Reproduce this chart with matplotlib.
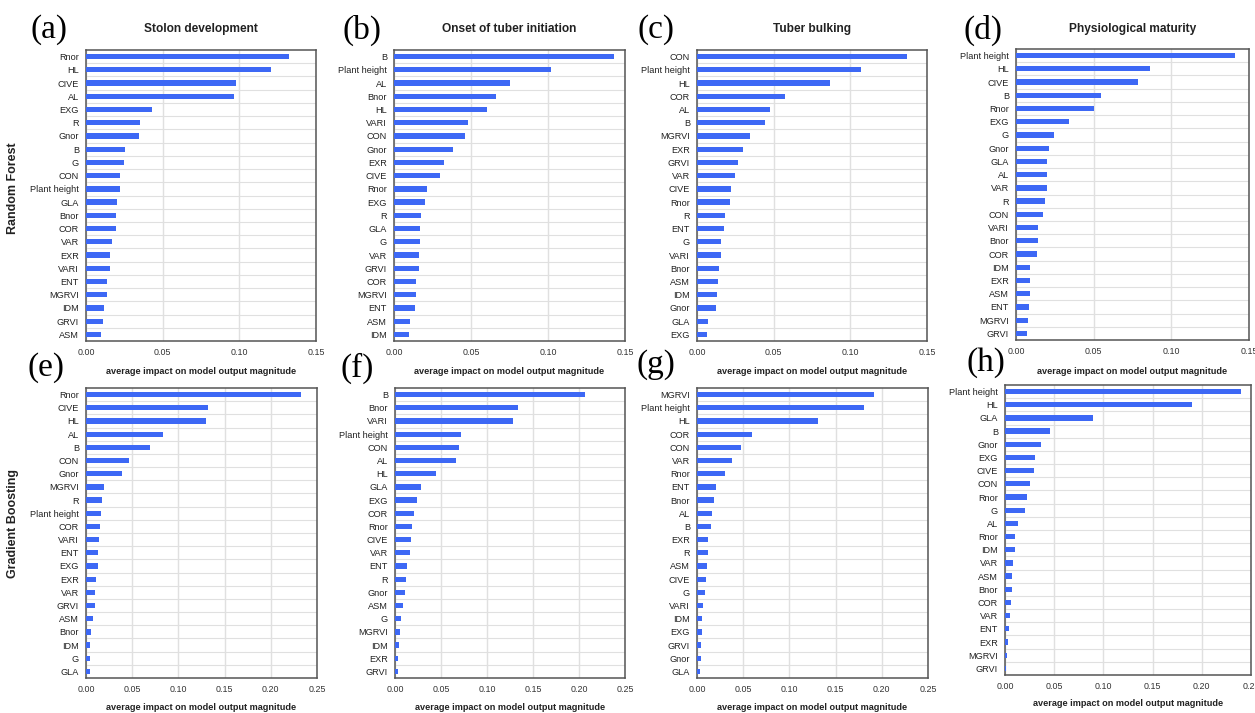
import matplotlib
matplotlib.use("Agg")
import matplotlib.pyplot as plt
from matplotlib.ticker import MultipleLocator, FixedLocator

plt.rcParams["font.family"] = ["Liberation Sans", "DejaVu Sans"]

# ---- Random Forest: mean |SHAP| per feature, one list per growth stage ----
rf_stolon_labels = ["Rnor", "HL", "CIVE", "AL", "EXG", "R", "Gnor", "B", "G", "CON",
                    "Plant height", "GLA", "Bnor", "COR", "VAR", "EXR", "VARI", "ENT",
                    "MGRVI", "IDM", "GRVI", "ASM"]
rf_stolon_values = [0.1326, 0.1207, 0.0978, 0.0963, 0.0428, 0.0354, 0.0346, 0.0257, 0.0248,
                    0.0224, 0.0222, 0.0200, 0.0198, 0.0193, 0.0172, 0.0159, 0.0158, 0.0139,
                    0.0135, 0.0120, 0.0111, 0.0098]

rf_onset_labels = ["B", "Plant height", "AL", "Bnor", "HL", "VARI", "CON", "Gnor", "EXR",
                   "CIVE", "Rnor", "EXG", "R", "GLA", "G", "VAR", "GRVI", "COR", "MGRVI",
                   "ENT", "ASM", "IDM"]
rf_onset_values = [0.1431, 0.1017, 0.0752, 0.0663, 0.0607, 0.0479, 0.0460, 0.0382, 0.0325,
                   0.0299, 0.0217, 0.0199, 0.0173, 0.0167, 0.0166, 0.0163, 0.0162, 0.0145,
                   0.0141, 0.0139, 0.0106, 0.0095]

rf_bulking_labels = ["CON", "Plant height", "HL", "COR", "AL", "B", "MGRVI", "EXR", "GRVI",
                     "VAR", "CIVE", "Rnor", "R", "ENT", "G", "VARI", "Bnor", "ASM", "IDM",
                     "Gnor", "GLA", "EXG"]
rf_bulking_values = [0.1370, 0.1070, 0.0868, 0.0577, 0.0475, 0.0443, 0.0347, 0.0300, 0.0265,
                     0.0250, 0.0219, 0.0218, 0.0185, 0.0176, 0.0156, 0.0154, 0.0145, 0.0135,
                     0.0128, 0.0126, 0.0074, 0.0067]

rf_maturity_labels = ["Plant height", "HL", "CIVE", "B", "Rnor", "EXG", "G", "Gnor", "GLA",
                      "AL", "VAR", "R", "CON", "VARI", "Bnor", "COR", "IDM", "EXR", "ASM",
                      "ENT", "MGRVI", "GRVI"]
rf_maturity_values = [0.1408, 0.0861, 0.0786, 0.0549, 0.0501, 0.0339, 0.0242, 0.0212, 0.0201,
                      0.0199, 0.0198, 0.0189, 0.0174, 0.0144, 0.0143, 0.0133, 0.0092, 0.0091,
                      0.0090, 0.0081, 0.0077, 0.0069]

# ---- Gradient Boosting ----
gb_stolon_labels = ["Rnor", "CIVE", "HL", "AL", "B", "CON", "Gnor", "MGRVI", "R",
                    "Plant height", "COR", "VARI", "ENT", "EXG", "EXR", "VAR", "GRVI", "ASM",
                    "Bnor", "IDM", "G", "GLA"]
gb_stolon_values = [0.2327, 0.1324, 0.1302, 0.0831, 0.0698, 0.0464, 0.0385, 0.0194, 0.0176,
                    0.0158, 0.0151, 0.0140, 0.0133, 0.0132, 0.0112, 0.0101, 0.0100, 0.0076,
                    0.0054, 0.0047, 0.0043, 0.0042]

gb_onset_labels = ["B", "Bnor", "VARI", "Plant height", "CON", "AL", "HL", "GLA", "EXG",
                   "COR", "Rnor", "CIVE", "VAR", "ENT", "R", "Gnor", "ASM", "G", "MGRVI",
                   "IDM", "EXR", "GRVI"]
gb_onset_values = [0.2061, 0.1334, 0.1287, 0.0712, 0.0691, 0.0662, 0.0445, 0.0286, 0.0242,
                   0.0202, 0.0188, 0.0170, 0.0159, 0.0134, 0.0119, 0.0112, 0.0090, 0.0065,
                   0.0058, 0.0043, 0.0036, 0.0033]

gb_bulking_labels = ["MGRVI", "Plant height", "HL", "COR", "CON", "VAR", "Rnor", "ENT", "Bnor",
                     "AL", "B", "EXR", "R", "ASM", "CIVE", "G", "VARI", "IDM", "EXG", "GRVI",
                     "Gnor", "GLA"]
gb_bulking_values = [0.1914, 0.1810, 0.1311, 0.0600, 0.0474, 0.0381, 0.0305, 0.0208, 0.0187,
                     0.0162, 0.0151, 0.0122, 0.0118, 0.0111, 0.0101, 0.0090, 0.0061, 0.0057,
                     0.0050, 0.0043, 0.0039, 0.0032]

gb_maturity_labels = ["Plant height", "HL", "GLA", "B", "Gnor", "EXG", "CIVE", "CON", "Rnor",
                      "G", "AL", "Rnor", "IDM", "VAR", "ASM", "Bnor", "COR", "VAR", "ENT",
                      "EXR", "MGRVI", "GRVI"]
gb_maturity_values = [0.2396, 0.1898, 0.0893, 0.0453, 0.0365, 0.0301, 0.0294, 0.0254, 0.0220,
                      0.0203, 0.0129, 0.0105, 0.0098, 0.0081, 0.0071, 0.0070, 0.0061, 0.0051,
                      0.0044, 0.0027, 0.0020, 0.0014]

stage_titles = ["Stolon development", "Onset of tuber initiation", "Tuber bulking",
                "Physiological maturity"]
model_names = ["Random Forest", "Gradient Boosting"]
panel_tags = ["(a)", "(b)", "(c)", "(d)", "(e)", "(f)", "(g)", "(h)"]
x_label = "average impact on model output magnitude"

W, H = 1255, 713
fig = plt.figure(figsize=(W / 100, H / 100), dpi=100)
fig.patch.set_facecolor("white")

BAR = "#3d68f5"
FRAME = "#555555"
GRID = "#e0e0e0"

# axes boxes in pixels: left, right, top, bottom
boxes = [
    (86, 316, 50, 341), (394, 625, 50, 341), (697, 927, 50, 341), (1016, 1249, 49, 340),
    (86, 317, 388, 678), (395, 625, 388, 678), (697, 928, 388, 678), (1005, 1251, 385, 675),
]
tag_pos = [(49, 30), (362, 30), (656, 30), (983, 30),
           (46, 368), (357, 368), (656, 365), (986, 363)]

panels = [
    (rf_stolon_labels, rf_stolon_values, 0.15),
    (rf_onset_labels, rf_onset_values, 0.15),
    (rf_bulking_labels, rf_bulking_values, 0.15),
    (rf_maturity_labels, rf_maturity_values, 0.15),
    (gb_stolon_labels, gb_stolon_values, 0.25),
    (gb_onset_labels, gb_onset_values, 0.25),
    (gb_bulking_labels, gb_bulking_values, 0.25),
    (gb_maturity_labels, gb_maturity_values, 0.25),
]

for i, ((labels, values, xmax), (l, r, t, b)) in enumerate(zip(panels, boxes)):
    ax = fig.add_axes([l / W, 1 - b / H, (r - l) / W, (b - t) / H])
    n = len(values)
    pos = list(range(n))
    ax.barh(pos, values, height=0.4, color=BAR, zorder=3)
    ax.set_ylim(n - 0.5, -0.5)
    ax.set_xlim(0, xmax)
    ax.set_yticks(pos)
    ax.set_yticklabels(labels, fontsize=6.6, color="#222222")
    ax.yaxis.set_minor_locator(FixedLocator([p + 0.5 for p in pos[:-1]]))
    ax.xaxis.set_major_locator(MultipleLocator(0.05))
    ax.set_xticklabels([f"{v:.2f}" for v in ax.get_xticks()], fontsize=6.4, color="#333333")
    ax.tick_params(axis="both", which="both", length=0)
    ax.tick_params(axis="y", pad=5)
    ax.tick_params(axis="x", pad=5)
    ax.grid(axis="x", which="major", color=GRID, lw=1.0, zorder=0)
    ax.grid(axis="y", which="minor", color=GRID, lw=0.8, zorder=0)
    for sp in ax.spines.values():
        sp.set_color(FRAME)
        sp.set_linewidth(1.1)
    ax.set_xlabel(x_label, fontsize=6.6, fontweight="bold", color="#222222")
    off = 31 if i < 4 else 29
    ax.xaxis.set_label_coords(0.5, -off / (b - t))
    ax.xaxis.label.set_va("center")
    if i < 4:
        ax.text(0.5, 1 + (t - 29) / (b - t), stage_titles[i], transform=ax.transAxes,
                ha="center", va="center", fontsize=8.6, fontweight="bold", color="#222222")
    tx, ty = tag_pos[i]
    fig.text(tx / W, 1 - ty / H, panel_tags[i], ha="center", va="center",
             fontsize=24, family="Liberation Serif", color="black")

fig.text(13 / W, 1 - 188 / H, model_names[0], rotation=90, ha="center", va="center",
         fontsize=9, fontweight="bold", color="#222222")
fig.text(13 / W, 1 - 523 / H, model_names[1], rotation=90, ha="center", va="center",
         fontsize=9, fontweight="bold", color="#222222")

fig.savefig("out.png", dpi=100, facecolor="white")
